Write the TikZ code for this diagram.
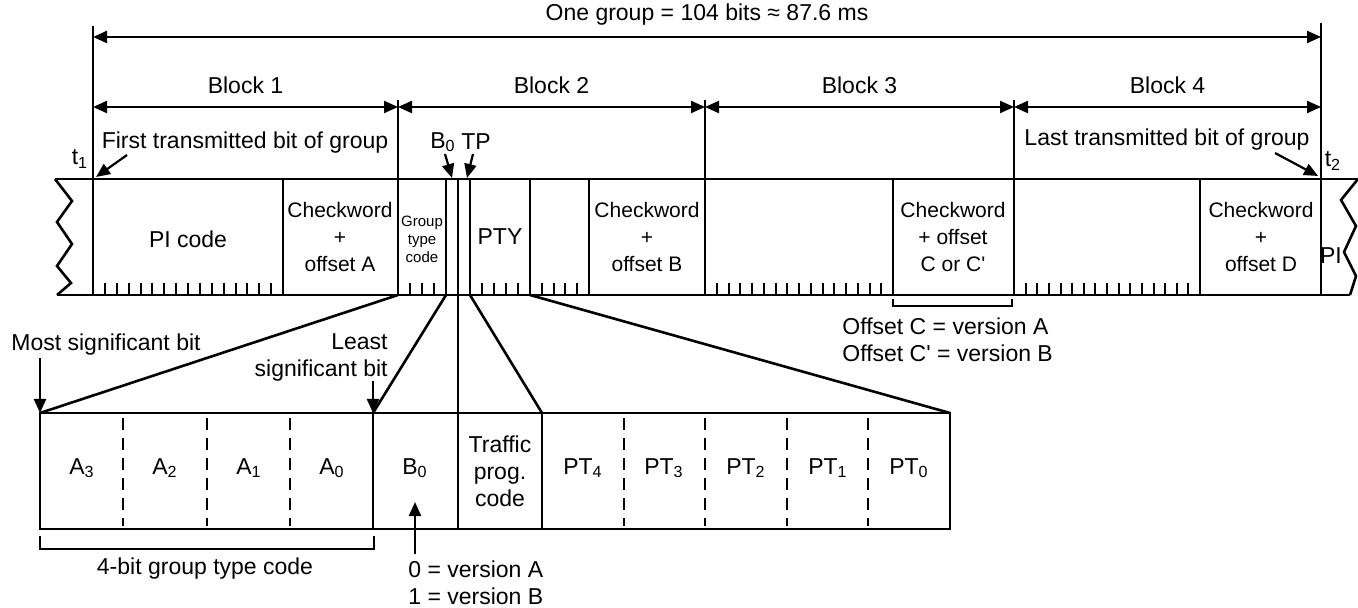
\documentclass[tikz,border=0pt]{standalone}
\usepackage{fontspec}
\setmainfont{Liberation Sans}
\usetikzlibrary{arrows.meta, positioning, calc}

\tikzset{
  dimline/.style={<->, line width=1.1pt},
  ptr/.style={->, line width=1.1pt},
  frame/.style={line width=1.3pt},
  bittick/.style={line width=1pt},
  bitsep/.style={line width=1.3pt, dash pattern=on 6pt off 4pt},
  txt/.style={font=\fontsize{11.5}{13.5}\selectfont, inner sep=0pt, align=center},
  cktxt/.style={font=\fontsize{10.5}{13.5}\selectfont, inner sep=0pt, align=center},
  tinytxt/.style={font=\fontsize{7.5}{9}\selectfont, inner sep=0pt, align=center},
}

\begin{document}
\begin{tikzpicture}[x=0.5pt, y=-0.5pt, >={Triangle[length=7pt,width=6pt]}]
  \useasboundingbox (0,0) rectangle (1358,608);
  % whole group
  \coordinate (t1) at (93,179); \coordinate (t2) at (1321,179);
  \draw[line width=1.1pt] (93,26) -- (93,295);
  \draw[line width=1.1pt] (1321,23) -- (1321,295);
  \draw[dimline] (93,37) -- (1321,37);
  \node[txt] (group) at (707,15) {One group = 104 bits ≈ 87.6 ms};
  % blocks
  \foreach \a/\b [count=\i] in {93/398, 398/705, 705/1014, 1014/1321} {
    \coordinate (bl\i) at (\a,107); \coordinate (br\i) at (\b,107);
    \draw[dimline] (bl\i) -- (br\i);
    \node[txt] (blk\i) at ($(bl\i)!0.5!(br\i)+(0,-22)$) {Block \i};
  }
  \foreach \x in {398,705,1014} \draw[line width=1.1pt] (\x,100) -- (\x,295);
  % the bit stream
  \draw[frame] (55,179) -- (1358,179);
  \draw[frame] (57,295) -- (1350,295);
  \draw[frame] (55,179) -- (72,201) -- (57,222) -- (72,244) -- (57,266) -- (71,283) -- (57,295);
  \draw[frame] (1358,179) -- (1341,200) -- (1356,226) -- (1344,252) -- (1356,276) -- (1350,295);
  \foreach \x in {283,446,458,470,530,589,893,1200} \draw[frame] (\x,179) -- (\x,295);
  \foreach \a/\b/\n in {93/283/16, 398/446/4, 470/530/5, 530/589/5, 705/893/16, 1014/1200/16} {
    \pgfmathtruncatemacro{\m}{\n-1}
    \foreach \k in {1,...,\m} \draw[bittick] ({\a+\k*(\b-\a)/\n},283) -- ++(0,12);
  }
  \node[txt] (pi) at (188,239) {PI code};
  \node[cktxt] (ckA) at (340,237) {Checkword\\+\\offset A};
  \node[tinytxt] (gtc) at (422,239) {Group\\type\\code};
  \node[txt] (pty) at (500,237) {PTY};
  \node[cktxt] (ckB) at (647,237) {Checkword\\+\\offset B};
  \node[cktxt] (ckC) at (953,237) {Checkword\\+ offset\\C or C\textquotesingle};
  \node[cktxt] (ckD) at (1261,237) {Checkword\\+\\offset D};
  \node[txt] (pinext) at (1331,256) {PI};
  % first and last bit
  \node[txt] (first) at (245,143) {First transmitted bit of group};
  \node[txt] (last) at (1167,140) {Last transmitted bit of group};
  \node[txt] (t1lbl) at (80,159) {t\textsubscript{1}};
  \node[txt] (t2lbl) at (1333,161) {t\textsubscript{2}};
  \coordinate (firsttail) at (127,155); \coordinate (lasttail) at (1275,153);
  \draw[ptr] (firsttail) -- ($(t1)+(3,-2)$);
  \draw[ptr] (lasttail) -- ($(t2)+(-3,-3)$);
  % B0 and TP
  \node[txt] (b0lbl) at (443,142) {B\textsubscript{0}};
  \node[txt] (tplbl) at (476,142) {TP};
  \draw[ptr] (445,154) -- (452,178);
  \draw[ptr] (473,154) -- (467,178);
  % offset C bracket
  \draw[line width=1.1pt] (893,299) -- (893,306) -- (1012,306) -- (1012,299);
  \node[txt, anchor=west] (offC) at (842,326) {Offset C = version A};
  \node[txt, anchor=west] (offCp) at (842,353) {Offset C\textquotesingle{} = version B};
  % expansion of block 2 fields
  \coordinate (gtL) at (398,295); \coordinate (b0L) at (446,295);
  \coordinate (tpL) at (458,295); \coordinate (tpR) at (470,295);
  \coordinate (ptyR) at (530,295);
  \coordinate (xA) at (40,413); \coordinate (xB) at (373,413);
  \coordinate (xT) at (458,413); \coordinate (xP) at (542,413);
  \coordinate (xE) at (950,413);
  \draw[frame] (gtL) -- (xA);
  \draw[frame] (b0L) -- (xB);
  \draw[frame] (tpL) -- (xT);
  \draw[frame] (tpR) -- (xP);
  \draw[frame] (ptyR) -- (xE);
  \draw[frame] (xA) rectangle (950,529);
  \foreach \x in {373,458,542} \draw[frame] (\x,413) -- (\x,529);
  \foreach \x in {123,207,290,624,705,787,868} \draw[bitsep] (\x,418) -- (\x,526);
  \foreach \x/\s [count=\i] in {82/A\textsubscript{3}, 165/A\textsubscript{2}, 249/A\textsubscript{1}, 332/A\textsubscript{0}, 415/B\textsubscript{0},
      583/PT\textsubscript{4}, 664/PT\textsubscript{3}, 746/PT\textsubscript{2}, 828/PT\textsubscript{1}, 909/PT\textsubscript{0}}
    \node[txt] (bit\i) at (\x,468) {\s};
  \node[txt] (tpc) at (500,471) {Traffic\\prog.\\code};
  % annotations below
  \node[txt] (msb) at (106,345) {Most significant bit};
  \node[txt, align=right, anchor=east] (lsb) at (388,357) {Least\\significant bit};
  \draw[ptr] (40,358) -- (xA);
  \draw[ptr] (373,381) -- (xB);
  \draw[line width=1.1pt] (40,536) -- (40,549) -- (374,549) -- (374,536);
  \node[txt] (gtype) at (205,569) {4-bit group type code};
  \node[txt, anchor=west] (verA) at (408,569) {0 = version A};
  \node[txt, anchor=west] (verB) at (408,596) {1 = version B};
  \draw[ptr] (415,554) -- (415,502);
\end{tikzpicture}
\end{document}
